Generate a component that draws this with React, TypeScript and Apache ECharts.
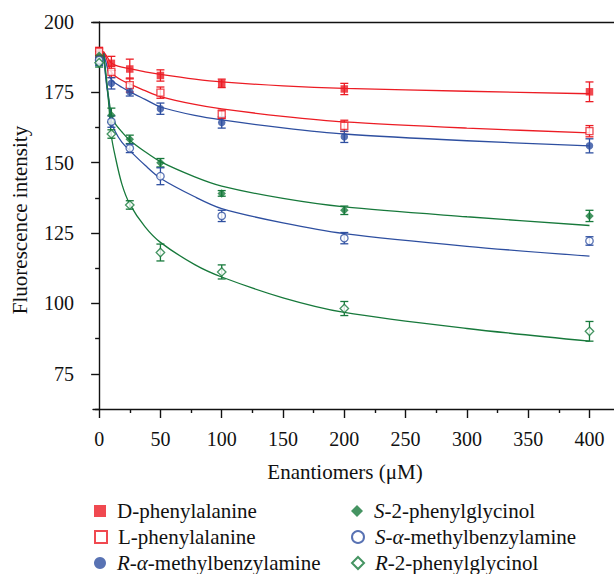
import React, { useEffect, useRef } from "react";
import * as echarts from "echarts";

// Measured concentrations (µM)
const concentrations = [0, 10, 25, 50, 100, 200, 400];

// Mean fluorescence intensity per enantiomer
const dPhe = [189, 185.3, 183.3, 181.0, 178.2, 176.2, 175.2];
const lPhe = [189.5, 182.3, 177.6, 174.9, 167.2, 163.1, 161.2];
const rMBA = [186, 178.2, 175.2, 169.2, 164.3, 159.2, 156.0];
const sPG = [188, 166.9, 158.3, 150.0, 139.1, 133.1, 131.1];
const sMBA = [186.5, 164.6, 155.1, 145.2, 131.1, 123.2, 122.2];
const rPG = [185.5, 160.2, 135.0, 118.1, 111.2, 98.2, 90.1];

// Error bar half-heights
const dPheErr = [1.5, 2.5, 3.5, 2, 1.5, 2, 3.5];
const lPheErr = [1.5, 2, 2.5, 2, 1.5, 2, 2];
const rMBAErr = [1.5, 2, 1.5, 2, 2, 2, 2.5];
const sPGErr = [1.5, 2.5, 1.5, 1.5, 1, 1.5, 2];
const sMBAErr = [1.5, 2, 1.5, 3, 2, 2, 1.5];
const rPGErr = [1.5, 1.5, 1.5, 3, 2.5, 2.5, 3.5];

// Fitted curves
const curveX = [3.5, 6, 8, 10, 13, 18.5, 25, 37.5, 50, 78, 100, 150, 200, 300, 400];
const dPheFit = [189.5, 188, 186.5, 185.4, 184.7, 184.0, 183.4, 182.3, 181.4, 179.7, 178.7, 177.3, 176.4, 175.4, 174.5];
const lPheFit = [189.5, 187, 184, 182.2, 180.8, 179.3, 178.0, 175.6, 173.5, 170.7, 169.1, 166.5, 164.5, 162.3, 160.6];
const rMBAFit = [189, 185, 181.5, 179.5, 178.3, 176.8, 175.2, 172.5, 169.8, 166.8, 165.2, 162.4, 160.2, 157.8, 156.0];
const sPGFit = [189, 178.5, 172.5, 167, 164, 161, 158, 153.9, 150.4, 145, 141.7, 137.3, 134.3, 130.8, 127.7];
const sMBAFit = [189, 178, 171.5, 164.6, 161.2, 157.3, 154.3, 149.1, 144.5, 137.9, 133.7, 128.6, 124.8, 120.3, 116.8];
const rPGFit = [189, 180, 170, 159.5, 152.5, 142.5, 135.3, 127.2, 121.7, 113.8, 109.4, 102, 96.8, 91.1, 86.6];

const yMajorTicks = [75, 100, 125, 150, 175, 200];
const yMinorTicks = [62.5, 87.5, 112.5, 137.5, 162.5, 187.5];
const xMajorTicks = [0, 50, 100, 150, 200, 250, 300, 350, 400];
const xMinorTicks = [25, 75, 125, 175, 225, 275, 325, 375];

const RED = "#EC1C24";
const BLUE = "#2E4FA0";
const GREEN = "#17793B";
const FONT = "Liberation Serif, Times New Roman, serif";

type Spec = {
  name: string;
  values: number[];
  errors: number[];
  fit: number[];
  color: string;
  symbol: string;
  size: number;
  open: boolean;
};

const specs: Spec[] = [
  { name: "D-phenylalanine", values: dPhe, errors: dPheErr, fit: dPheFit, color: RED, symbol: "rect", size: 7.5, open: false },
  { name: "L-phenylalanine", values: lPhe, errors: lPheErr, fit: lPheFit, color: RED, symbol: "rect", size: 7, open: true },
  { name: "R-α-methylbenzylamine", values: rMBA, errors: rMBAErr, fit: rMBAFit, color: BLUE, symbol: "circle", size: 7.5, open: false },
  { name: "S-2-phenylglycinol", values: sPG, errors: sPGErr, fit: sPGFit, color: GREEN, symbol: "diamond", size: 8.5, open: false },
  { name: "S-α-methylbenzylamine", values: sMBA, errors: sMBAErr, fit: sMBAFit, color: BLUE, symbol: "circle", size: 7.5, open: true },
  { name: "R-2-phenylglycinol", values: rPG, errors: rPGErr, fit: rPGFit, color: GREEN, symbol: "diamond", size: 8.5, open: true },
];

// legend placement: column left edges and row centres
const legendLeft = [94, 94, 94, 351, 351, 351];
const legendRowCenter = [511, 537, 563, 511, 537, 563];

function legendFormatter(name: string): string {
  const m = name.match(/^([RS])-(α-)?(.*)$/);
  if (!m) return name;
  return `{i|${m[1]}}-` + (m[2] ? "{i|α}-" : "") + m[3];
}

export default function App() {
  const ref = useRef<HTMLDivElement>(null);
  useEffect(() => {
    if (!ref.current) return;
    const chart = echarts.init(ref.current, undefined, { renderer: "svg" });

    const fitSeries = specs.map((s) => ({
      type: "line",
      name: s.name + " fit",
      data: curveX.map((x, i) => [x, s.fit[i]]),
      showSymbol: false,
      symbol: "none",
      smooth: 0.3,
      lineStyle: { color: s.color, width: 1.3 },
      z: 2,
      silent: true,
    }));

    const errSeries = specs.map((s) => ({
      type: "custom",
      name: s.name + " err",
      data: concentrations.map((x, i) => [x, s.values[i], s.errors[i]]),
      encode: { x: 0, y: 1 },
      z: 3,
      silent: true,
      renderItem: (params: any, api: any) => {
        const x = api.value(0);
        const y = api.value(1);
        const e = api.value(2);
        const top = api.coord([x, y + e]);
        const bot = api.coord([x, y - e]);
        const hw = 4;
        const style = { stroke: s.color, lineWidth: 1.3, fill: "none" };
        return {
          type: "group",
          children: [
            { type: "line", shape: { x1: top[0], y1: top[1], x2: bot[0], y2: bot[1] }, style },
            { type: "line", shape: { x1: top[0] - hw, y1: top[1], x2: top[0] + hw, y2: top[1] }, style },
            { type: "line", shape: { x1: bot[0] - hw, y1: bot[1], x2: bot[0] + hw, y2: bot[1] }, style },
          ],
        };
      },
    }));

    const pointSeries = specs.map((s) => ({
      type: "scatter",
      name: s.name,
      data: concentrations.map((x, i) => [x, s.values[i]]),
      symbol: s.symbol,
      symbolSize: s.size,
      itemStyle: s.open
        ? { color: "#ffffff", borderColor: s.color, borderWidth: 1.3 }
        : { color: s.color, borderColor: s.color, borderWidth: 0 },
      z: 4,
    }));

    const legends = specs.map((s, i) => ({
      orient: "horizontal",
      left: legendLeft[i],
      top: legendRowCenter[i] - 11,
      padding: 0,
      itemWidth: 12,
      itemHeight: 12,
      selectedMode: false,
      formatter: legendFormatter,
      data: [s.name],
      textStyle: {
        fontFamily: FONT,
        fontSize: 21,
        lineHeight: 22,
        color: "#111",
        padding: [0, 0, 0, 6],
        rich: {
          i: { fontFamily: FONT, fontSize: 21, lineHeight: 22, fontStyle: "italic", color: "#111" },
        },
      },
    }));

    const axisLineStyle = { color: "#111", width: 1.4 };

    chart.setOption({
      animation: false,
      backgroundColor: "#ffffff",
      textStyle: { fontFamily: FONT },
      grid: { left: 93, right: 0, top: 22, bottom: 165 },
      xAxis: [
        {
          type: "value",
          min: -5,
          max: 420,
          position: "bottom",
          splitLine: { show: false },
          axisLine: { show: true, lineStyle: axisLineStyle },
          axisTick: { show: true, length: 9, customValues: xMajorTicks, lineStyle: axisLineStyle },
          axisLabel: {
            customValues: xMajorTicks,
            margin: 20,
            fontFamily: FONT,
            fontSize: 20,
            color: "#111",
          },
        },
        {
          type: "value",
          min: -5,
          max: 420,
          position: "bottom",
          splitLine: { show: false },
          axisLine: { show: false },
          axisTick: { show: true, length: 4, customValues: xMinorTicks, lineStyle: axisLineStyle },
          axisLabel: { show: false },
        },
        {
          type: "value",
          min: -5,
          max: 420,
          position: "top",
          splitLine: { show: false },
          axisLine: { show: true, lineStyle: axisLineStyle },
          axisTick: { show: false },
          axisLabel: { show: false },
        },
      ],
      yAxis: [
        {
          type: "value",
          min: 62.5,
          max: 200,
          position: "left",
          splitLine: { show: false },
          axisLine: { show: true, lineStyle: axisLineStyle },
          axisTick: { show: true, length: 8, customValues: yMajorTicks, lineStyle: axisLineStyle },
          axisLabel: {
            customValues: yMajorTicks,
            margin: 19,
            fontFamily: FONT,
            fontSize: 20,
            color: "#111",
          },
        },
        {
          type: "value",
          min: 62.5,
          max: 200,
          position: "left",
          splitLine: { show: false },
          axisLine: { show: false },
          axisTick: { show: true, length: 4, customValues: yMinorTicks, lineStyle: axisLineStyle },
          axisLabel: { show: false },
        },
      ],
      legend: legends,
      graphic: [
        {
          type: "text",
          x: 345,
          y: 472,
          style: {
            text: "Enantiomers (μM)",
            fontFamily: FONT,
            fontSize: 21,
            fill: "#111",
            align: "center",
            verticalAlign: "middle",
          },
        },
        {
          type: "text",
          x: 20,
          y: 220,
          rotation: Math.PI / 2,
          style: {
            text: "Fluorescence intensity",
            fontFamily: FONT,
            fontSize: 21,
            fill: "#111",
            align: "center",
            verticalAlign: "middle",
          },
        },
      ],
      series: [...fitSeries, ...errSeries, ...pointSeries],
    });

    return () => chart.dispose();
  }, []);

  return (
    <div
      ref={ref}
      style={{ position: "fixed", left: 0, top: 0, width: 614, height: 574, background: "#fff" }}
    />
  );
}
